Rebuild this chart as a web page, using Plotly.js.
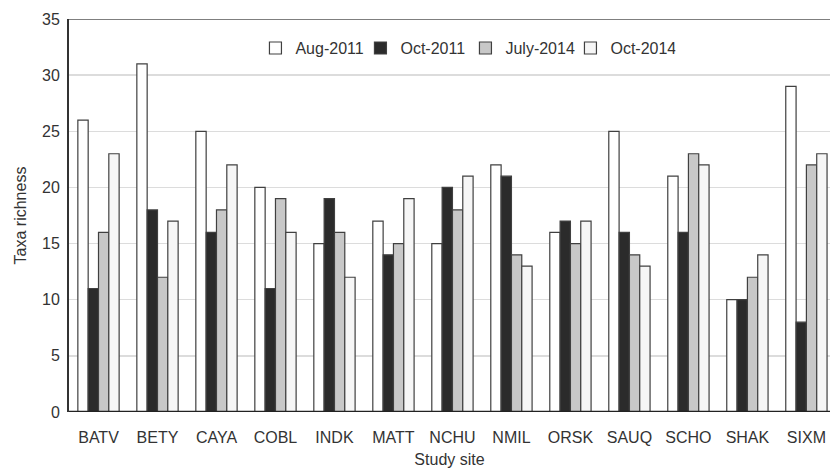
<!DOCTYPE html>
<html>
<head>
<meta charset="utf-8">
<script src="https://cdn.plot.ly/plotly-3.0.1.min.js"></script>
<style>html,body{margin:0;padding:0;background:#fff;}#chart{width:830px;height:468px;}</style>
</head>
<body>
<div id="chart"></div>
<script>
var sites = ["BATV","BETY","CAYA","COBL","INDK","MATT","NCHU","NMIL","ORSK","SAUQ","SCHO","SHAK","SIXM"];
var aug2011  = [26,31,25,20,15,17,15,22,16,25,21,10,29];
var oct2011  = [11,18,16,11,19,14,20,21,17,16,16,10,8];
var july2014 = [16,12,18,19,16,15,18,14,15,14,23,12,22];
var oct2014  = [23,17,22,16,12,19,21,13,17,13,22,14,23];
var seriesNames = ["Aug-2011","Oct-2011","July-2014","Oct-2014"];
var yTicks = [0,5,10,15,20,25,30,35];

var fills = ["#ffffff","#2b2b2b","#c8c8c8","#f6f6f6"];
var vals = [aug2011, oct2011, july2014, oct2014];
var traces = vals.map(function(v,i){
  return {type:"bar", x:sites, y:v, name:seriesNames[i],
    marker:{color:fills[i], line:{color:"#404040", width:1.2}}};
});

var txt = "#333";
var layout = {
  width:830, height:468,
  margin:{l:69, r:0, t:19, b:56},
  paper_bgcolor:"#fff", plot_bgcolor:"#fff",
  font:{family:"Liberation Sans, Arial, sans-serif", size:16, color:txt},
  barmode:"group", bargap:0.3, bargroupgap:0,
  showlegend:true,
  legend:{orientation:"h", x:0.245, xanchor:"left", y:0.926, yanchor:"middle",
    font:{size:16, color:txt}, bgcolor:"rgba(0,0,0,0)", itemwidth:30, entrywidth:60,
    tracegroupgap:0},
  xaxis:{range:[-0.5,12.4], showline:false, ticks:"", tickfont:{size:16,color:txt},
    ticklabelstandoff:14,
    title:{text:"Study site", font:{size:16,color:txt}, standoff:8}, fixedrange:true},
  yaxis:{range:[0,35], tickvals:yTicks, ticks:"", showline:true, linecolor:"#333", linewidth:2,
    gridcolor:"#dcdcdc", gridwidth:1.5, zeroline:false, tickfont:{size:16,color:txt},
    ticklabelstandoff:4,
    title:{text:"Taxa richness", font:{size:16,color:txt}, standoff:11}},
  shapes:[
    {type:"line", xref:"paper", yref:"y", x0:0, x1:1, y0:35, y1:35, line:{color:"#555", width:1.5}},
    {type:"line", xref:"paper", yref:"y", x0:0, x1:1, y0:0, y1:0, line:{color:"#222", width:2.5}}
  ]
};
Plotly.newPlot("chart", traces, layout, {staticPlot:true});
</script>
</body>
</html>
